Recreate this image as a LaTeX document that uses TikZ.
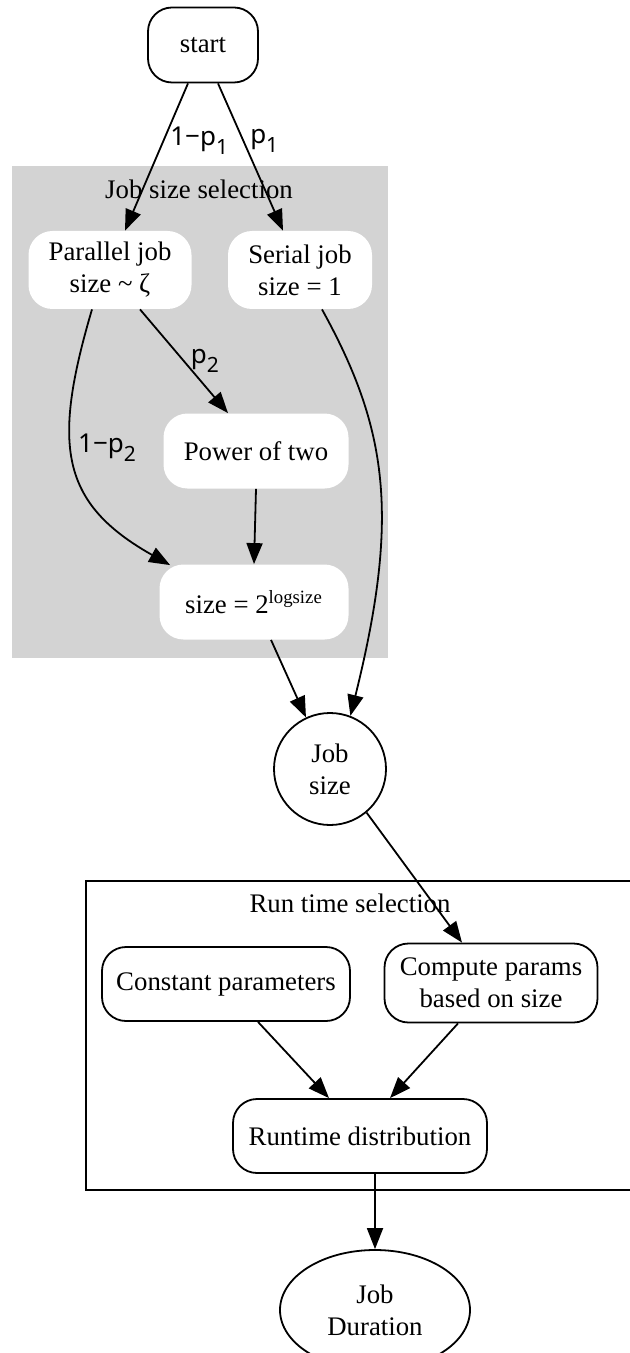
\documentclass[tikz,border=0pt]{standalone}
\usepackage{fontspec}
\setmainfont{Liberation Serif}
\newfontfamily\lblfont{Noto Sans}
\usetikzlibrary{arrows.meta,calc,shapes.geometric}
\definecolor{clustergray}{HTML}{D3D3D3}

\newcommand{\lblsub}[1]{\raisebox{-4.5pt}{\fontsize{10.5}{10.5}\selectfont #1}}

\begin{document}
\begin{tikzpicture}[x=0.5pt,y=-0.5pt,
  font=\fontsize{13.4}{16}\selectfont,
  every node/.style={align=center, inner sep=0pt},
  outlined/.style={draw, line width=0.9pt, rounded corners=12pt},
  filledbox/.style={fill=white, rounded corners=12pt},
  edge/.style={line width=0.9pt, -{Triangle[length=10.5pt,width=8pt]}},
  elabel/.style={font=\lblfont\fontsize{13}{13}\selectfont, inner sep=3pt},
  cluster/.style={line width=0.9pt}
]
\useasboundingbox (0,0) rectangle (630,1353);

% clusters
\fill[clustergray] (12,166) rectangle (388,658);
\node (jsslabel) at (199,189) {Job size selection};
\draw[cluster] (86,881) rectangle (640,1190);
\node (rtslabel) at (350,903) {Run time selection};

% nodes
\node[outlined, minimum width=55pt, minimum height=37.5pt] (start) at (203,45) {start};
\node[filledbox, minimum width=81.5pt, minimum height=39pt] (par) at (110,270) {Parallel job\\size \textasciitilde{} ζ};
\node[filledbox, minimum width=72pt, minimum height=39pt] (ser) at (300,270) {Serial job\\size = 1};
\node[filledbox, minimum width=92.5pt, minimum height=37.5pt] (pow) at (256,451) {Power of two};
\node[filledbox, minimum width=94.5pt, minimum height=37.5pt] (sz) at (254,602) {size = 2\textsuperscript{logsize}};
\node[circle, draw, line width=0.9pt, minimum size=56pt] (job) at (330,769) {Job\\size};
\node[outlined, minimum width=124pt, minimum height=37pt] (const) at (226,984) {Constant parameters};
\node[outlined, minimum width=106.5pt, minimum height=39.5pt] (cmp) at (491,983) {Compute params\\based on size};
\node[outlined, minimum width=127pt, minimum height=37pt] (rt) at (360,1136) {Runtime distribution};
\node[ellipse, draw, line width=0.9pt, minimum width=95pt, minimum height=60pt] (dur) at (375,1310) {Job\\Duration};

% connectors
\draw[edge] ($(start.south)+(-15,0)$) -- node[elabel, pos=0.39, anchor=west] {1−p\lblsub{1}} ($(par.north)+(15,0)$);
\draw[edge] ($(start.south)+(15,0)$) -- node[elabel, pos=0.39, anchor=west] {p\lblsub{1}} ($(ser.north)+(-17,0)$);
\draw[edge] ($(par.south)+(30,0)$) -- node[elabel, pos=0.5, anchor=west] {p\lblsub{2}} ($(pow.north)+(-28,0)$);
\draw[edge] ($(par.south)+(-18,0)$) .. controls (52,445) and (60,503) .. node[elabel, pos=0.43, anchor=west] {1−p\lblsub{2}} ($(sz.north west)+(11,1)$);
\draw[edge] (pow.south) -- (sz.north);
\draw[edge] ($(ser.south)+(22,0)$) .. controls (388,429) and (400,516) .. (job.69);
\draw[edge] ($(sz.south)+(17,0)$) -- (job.115);
\draw[edge] (job.-50) -- ($(cmp.north)+(-29,0)$);
\draw[edge] ($(const.south)+(32,0)$) -- ($(rt.north)+(-31,0)$);
\draw[edge] ($(cmp.south)+(-33,0)$) -- ($(rt.north)+(30,0)$);
\draw[edge] ($(rt.south)+(15,0)$) -- (dur.north);
\end{tikzpicture}
\end{document}
